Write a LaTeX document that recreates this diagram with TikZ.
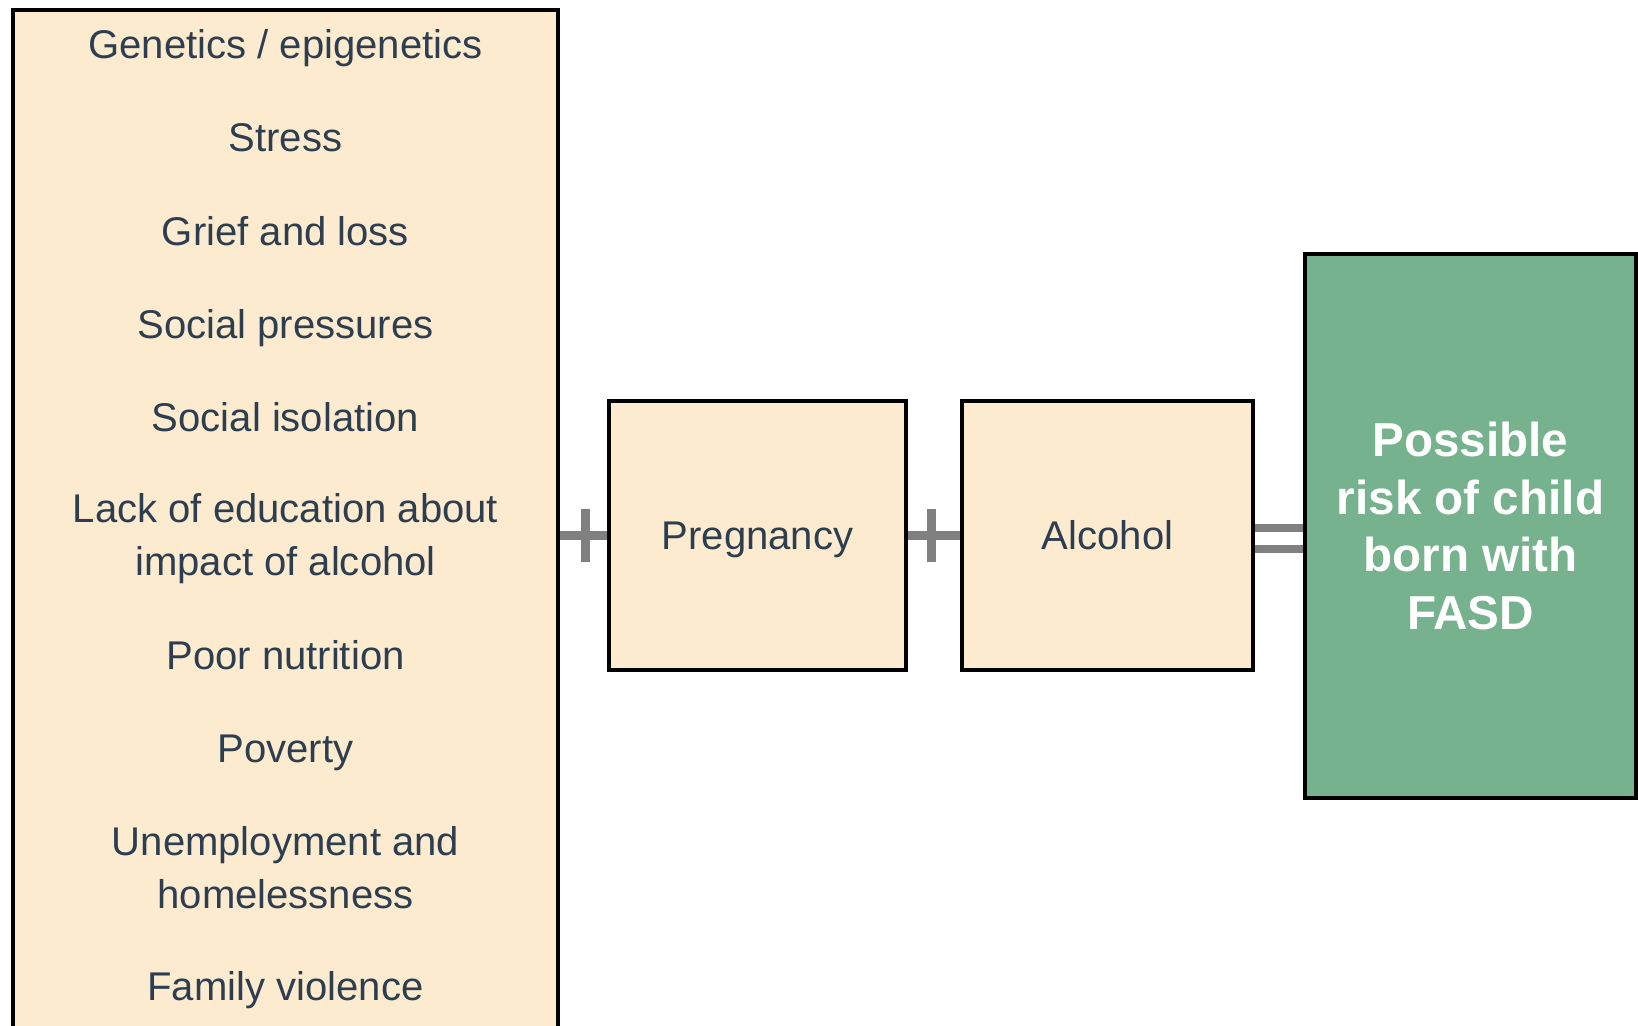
\documentclass[tikz,border=0pt]{standalone}
\usepackage{fontspec}
\setmainfont{Liberation Sans}
\usetikzlibrary{calc}
\definecolor{peach}{RGB}{253,235,208}
\definecolor{riskgreen}{RGB}{118,178,142}
\definecolor{slate}{RGB}{44,62,80}
\definecolor{signgray}{RGB}{128,128,128}

\begin{document}
\begin{tikzpicture}[x=0.02cm,y=-0.02cm,
  box/.style={draw=black,line width=2pt,fill=peach,text=slate,
    font=\fontsize{22.8}{30.2}\selectfont},
  item/.style={text=slate,align=center,font=\fontsize{22.8}{30.2}\selectfont},
  bar/.style={draw=signgray,line width=0.18cm}]
  \clip (0,0) rectangle (1638,1026);

  %% Box with the risk factors (runs off the bottom)
  \node[box,minimum width=10.9cm,minimum height=20.8cm] (factors) at (285.5,530) {};
  \foreach \y/\t [count=\i] in {48/{Genetics / epigenetics},138/{Stress},
    231/{Grief and loss},328/{Social pressures},417/{Social isolation},
    539/{Lack of education about\\impact of alcohol},655/{Poor nutrition},
    753/{Poverty},868/{Unemployment and\\homelessness},990/{Family violence}}
  {
    \node[item] (item\i) at (285.5,\y) {\t};
  }

  %% The other boxes
  \node[box,minimum width=5.94cm,minimum height=5.38cm,text depth=0pt] (preg) at (757.5,535.5) {Pregnancy};
  \node[box,minimum width=5.82cm,minimum height=5.38cm] (alc) at (1107.5,535.5) {Alcohol};
  \node[draw=black,line width=2pt,fill=riskgreen,minimum width=6.62cm,minimum height=10.88cm,
    text=white,align=center,font=\fontsize{27.1}{32.7}\selectfont\bfseries]
    (risk) at (1470.5,526) {Possible\\risk of child\\born with\\FASD};

  %% Plus signs
  \draw[bar] (factors.east |- preg.west) -- (preg.west);
  \coordinate (p1) at ($(factors.east |- preg.west)!0.55!(preg.west)$);
  \draw[bar] ($(p1)+(0,-26.5)$) -- ($(p1)+(0,26.5)$);
  \draw[bar] (preg.east) -- (alc.west);
  \coordinate (p2) at ($(preg.east)!0.45!(alc.west)$);
  \draw[bar] ($(p2)+(0,-26.5)$) -- ($(p2)+(0,26.5)$);

  %% Equals sign
  \foreach \d in {-7.5,13.5}
  {
    \draw[bar,line width=0.16cm] ($(alc.east)+(0,\d)$) -- ($(risk.west |- alc.east)+(0,\d)$);
  }
\end{tikzpicture}
\end{document}
